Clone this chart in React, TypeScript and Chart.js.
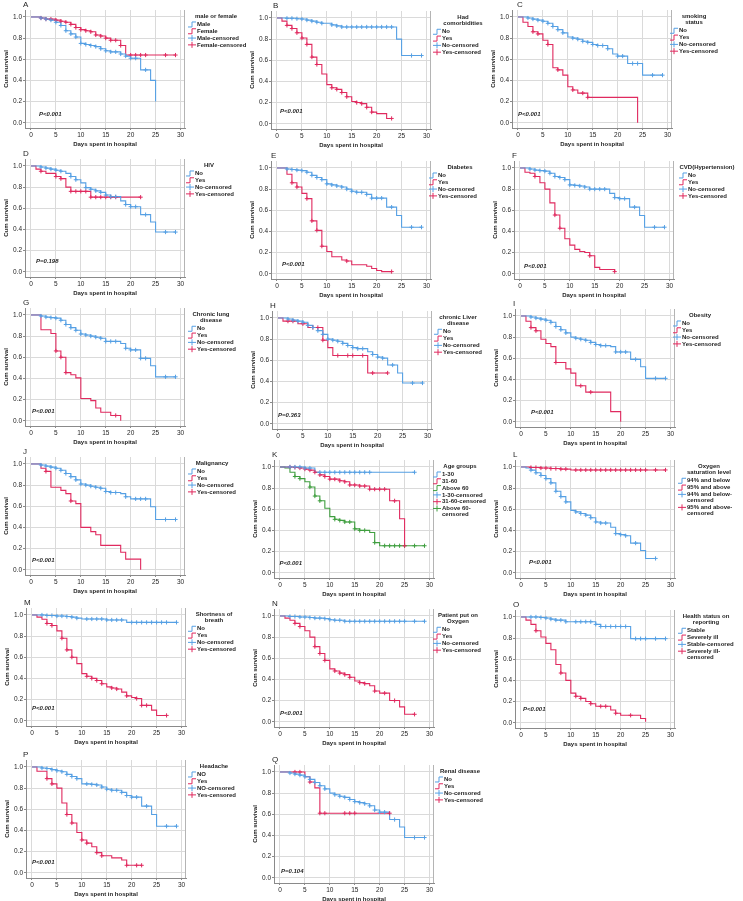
import React, { useEffect, useRef } from "react";
import { Chart, registerables } from "chart.js";
Chart.register(...registerables);

const FONT = '"Liberation Sans", Arial, sans-serif';
const BLUE = "#56a0e4";
const RED = "#e02a5f";
const GREEN = "#3f9e3f";
const TEXT = "#1e1e1e";

const X_TICKS = [0, 5, 10, 15, 20, 25, 30];
const X_TICK_LABELS = ["0", "5", "10", "15", "20", "25", "30"];
const Y_TICKS = [0, 0.2, 0.4, 0.6, 0.8, 1.0];
const Y_TICK_LABELS = ["0.0", "0.2", "0.4", "0.6", "0.8", "1.0"];
const X_TITLE = "Days spent in hospital";
const Y_TITLE = "Cum survival";

// ---- A: male or female
const A_MALE = [[0,1],[2,.99],[3,.98],[4,.97],[5,.95],[6,.92],[7,.87],[8,.84],[9,.81],[10,.75],[11,.74],[12,.73],[13,.72],[14,.70],[15,.68],[16,.67],[18,.65],[19,.63],[20,.61],[22,.50],[24,.40],[25,.20]];
const A_MALE_C = [2,3,4,5,6,7,8,9,10,11,12,13,14,15,16,17,18,19,20,21,23];
const A_FEMALE = [[0,1],[2,.99],[3,.98],[5,.97],[6,.96],[7,.95],[8,.93],[9,.90],[10,.88],[11,.87],[12,.86],[13,.83],[14,.82],[15,.80],[16,.78],[18,.73],[19,.64],[29,.64]];
const A_FEMALE_C = [2,3,4,5,6,7,8,9,10,11,12,13,14,15,16,17,18,20,21,22,23,27,29];
// ---- B: Had comorbidities
const B_NO = [[0,1],[2,.997],[4,.993],[5,.99],[6,.98],[7,.97],[8,.96],[9,.95],[11,.935],[12,.925],[13,.915],[24,.80],[25,.645],[29,.645]];
const B_NO_C = [2,3,4,5,6,7,8,9,11,12,13,14,15,16,17,18,19,20,21,22,23,27,29];
const B_YES = [[0,1],[1,.97],[2,.93],[3,.90],[4,.86],[5,.81],[6,.75],[7,.63],[8,.56],[9,.47],[10,.37],[11,.34],[12,.325],[13,.295],[14,.255],[15,.21],[16,.20],[17,.19],[18,.155],[19,.11],[20,.095],[22,.05],[23,.05]];
const B_YES_C = [2,3,4,5,6,7,8,11,12,13,14,16,17,18,19,23];
// ---- C: smoking status
const C_NO = [[0,1],[2,.99],[3,.98],[4,.97],[5,.96],[6,.94],[7,.91],[8,.88],[9,.85],[10,.81],[11,.80],[12,.79],[13,.77],[14,.76],[15,.74],[16,.73],[18,.70],[19,.65],[20,.63],[22,.56],[25,.45],[29,.45]];
const C_NO_C = [2,3,4,5,6,7,8,9,11,12,13,14,15,16,17,18,20,21,23,24,27,29];
const C_YES = [[0,1],[1,.95],[2,.91],[3,.86],[4,.84],[5,.78],[6,.74],[7,.52],[8,.50],[9,.45],[10,.34],[11,.31],[12,.28],[14,.24],[24,0]];
const C_YES_C = [3,4,6,8,11,13,14];
// ---- D: HIV
const D_NO = [[0,1],[2,.99],[3,.98],[4,.97],[5,.96],[6,.95],[7,.93],[8,.90],[9,.87],[10,.84],[11,.795],[12,.78],[13,.765],[14,.75],[15,.725],[16,.71],[18,.67],[19,.635],[20,.615],[22,.54],[24,.47],[25,.375],[29,.375]];
const D_NO_C = [2,3,4,5,6,8,9,11,12,13,14,15,16,17,19,20,21,23,27,29];
const D_YES = [[0,1],[1,.97],[2,.95],[3,.93],[5,.90],[6,.88],[7,.80],[8,.76],[12,.705],[22,.705]];
const D_YES_C = [2,5,6,8,9,10,11,12,13,14,15,16,17,22];
// ---- E: Diabetes
const E_NO = [[0,1],[2,.99],[3,.985],[4,.98],[5,.975],[6,.96],[7,.93],[8,.91],[9,.89],[10,.85],[11,.84],[12,.83],[13,.82],[14,.80],[15,.78],[16,.77],[18,.75],[19,.715],[22,.63],[24,.55],[25,.44],[29,.44]];
const E_NO_C = [2,3,4,5,6,7,8,9,10,11,12,13,14,15,16,17,18,19,20,21,23,27,29];
const E_YES = [[0,1],[2,.94],[3,.86],[4,.82],[5,.76],[6,.71],[7,.50],[8,.41],[9,.26],[10,.21],[11,.16],[13,.13],[14,.12],[15,.085],[18,.07],[19,.05],[20,.03],[21,.02],[23,.02]];
const E_YES_C = [3,4,6,7,8,9,14,23];
// ---- F: CVD(Hypertension)
const F_NO = [[0,1],[2,.99],[3,.98],[4,.975],[5,.97],[6,.95],[7,.92],[8,.91],[9,.89],[10,.84],[11,.835],[12,.83],[13,.82],[14,.80],[18,.76],[19,.72],[20,.71],[22,.63],[24,.55],[25,.44],[29,.44]];
const F_NO_C = [2,3,4,5,6,7,8,9,10,11,12,13,14,15,16,17,19,20,21,23,27,29];
const F_YES = [[0,1],[1,.96],[2,.95],[3,.92],[4,.86],[5,.80],[6,.67],[7,.555],[8,.43],[9,.33],[10,.27],[11,.23],[12,.21],[13,.20],[14,.17],[15,.06],[16,.04],[19,.02]];
const F_YES_C = [3,7,8,14,19];
// ---- G: Chronic lung disease
const G_NO = [[0,1],[2,.99],[3,.98],[4,.975],[5,.97],[6,.95],[7,.91],[8,.88],[9,.855],[10,.82],[11,.81],[12,.80],[13,.79],[14,.78],[15,.75],[18,.73],[19,.685],[20,.67],[22,.59],[24,.52],[25,.415],[29,.415]];
const G_NO_C = [2,3,4,5,6,7,8,9,10,11,12,13,14,15,16,17,19,20,21,22,23,27,29];
const G_YES = [[0,1],[2,.86],[4,.825],[5,.66],[6,.60],[7,.455],[8,.435],[9,.405],[10,.21],[12,.19],[13,.12],[14,.08],[16,.05],[18,0]];
const G_YES_C = [5,6,7,17];
// ---- H: chronic Liver disease
const H_NO = [[0,1],[2,.99],[3,.98],[4,.97],[5,.96],[6,.93],[7,.91],[8,.88],[9,.845],[10,.80],[11,.79],[12,.78],[13,.76],[14,.74],[15,.72],[16,.71],[18,.68],[19,.655],[20,.63],[21,.62],[22,.555],[24,.48],[25,.385],[29,.385]];
const H_NO_C = [2,3,4,5,6,7,8,9,10,11,12,13,14,15,16,17,19,20,21,23,27,29];
const H_YES = [[0,1],[1,.97],[4,.945],[6,.91],[9,.79],[10,.72],[11,.645],[18,.48],[22,.48]];
const H_YES_C = [2,3,5,7,8,9,12,14,15,17,19,22];
// ---- I: Obesity
const I_NO = [[0,1],[2,.99],[3,.98],[4,.97],[5,.96],[6,.94],[7,.90],[8,.87],[9,.84],[10,.80],[11,.79],[12,.78],[13,.77],[14,.75],[15,.73],[16,.72],[18,.71],[19,.66],[22,.59],[24,.52],[25,.41],[29,.41]];
const I_NO_C = [2,3,4,5,6,7,8,9,11,12,13,14,15,16,17,19,20,21,23,27,29];
const I_YES = [[0,1],[1,.95],[2,.89],[3,.86],[4,.78],[5,.74],[6,.71],[7,.56],[9,.50],[10,.46],[11,.34],[13,.28],[18,.095],[20,0]];
const I_YES_C = [2,3,7,12,14];
// ---- J: Malignancy
const J_NO = [[0,1],[2,.99],[3,.98],[4,.97],[5,.96],[6,.94],[7,.91],[8,.88],[9,.85],[10,.81],[11,.80],[12,.79],[13,.78],[14,.77],[15,.74],[16,.73],[18,.72],[19,.69],[20,.67],[24,.595],[25,.475],[29,.475]];
const J_NO_C = [2,3,4,5,6,7,8,9,10,11,12,13,14,15,16,17,19,21,22,23,27,29];
const J_YES = [[0,1],[2,.96],[3,.93],[4,.78],[6,.75],[7,.72],[8,.65],[9,.625],[10,.40],[12,.36],[13,.33],[14,.23],[18,.165],[19,.10],[22,0]];
const J_YES_C = [3,8];
// ---- K: Age groups
const K_1_30 = [[0,1],[5,.99],[7,.95],[27,.95]];
const K_1_30_C = [2,3,4,5,6,8,9,10,11,12,13,14,15,16,17,18,27];
const K_31_60 = [[0,1],[3,.995],[4,.99],[5,.98],[6,.97],[7,.95],[8,.925],[9,.91],[10,.885],[12,.87],[13,.86],[14,.83],[16,.82],[18,.79],[22,.68],[24,.51],[25,.255]];
const K_31_60_C = [2,3,4,5,6,7,8,9,10,11,12,13,14,15,16,17,18,19,20,21,23,25];
const K_60P = [[0,1],[1,.99],[2,.95],[3,.91],[4,.89],[5,.86],[6,.81],[7,.725],[8,.68],[9,.61],[10,.53],[11,.505],[12,.495],[13,.48],[15,.415],[16,.40],[18,.38],[19,.285],[20,.255],[29,.255]];
const K_60P_C = [3,4,6,7,8,11,12,13,14,15,16,17,19,21,22,23,24,25,27,29];
// ---- L: Oxygen saturation level
const L_LOW = [[0,1],[1,.99],[2,.97],[3,.945],[4,.92],[5,.89],[6,.85],[7,.77],[8,.72],[9,.67],[10,.59],[11,.575],[12,.56],[13,.545],[14,.52],[15,.48],[16,.47],[18,.43],[19,.37],[20,.36],[21,.35],[22,.28],[24,.21],[25,.135],[27,.135]];
const L_LOW_C = [2,3,4,5,6,7,8,9,11,12,13,14,15,16,17,19,20,21,23,27];
const L_HIGH = [[0,1],[2,.995],[4,.99],[6,.985],[8,.98],[10,.972],[29,.972]];
const L_HIGH_C = [2,3,4,5,6,7,8,9,11,12,13,14,15,16,17,18,19,20,21,22,23,24,25,27,29];
// ---- M: Shortness of breath
const M_NO = [[0,1],[3,.995],[5,.99],[7,.985],[8,.98],[9,.97],[10,.962],[15,.953],[19,.93],[29,.93]];
const M_NO_C = [2,3,4,5,6,7,8,9,11,12,13,14,15,16,17,18,20,21,22,23,24,25,26,27,29];
const M_YES = [[0,1],[1,.98],[2,.96],[3,.92],[4,.90],[5,.85],[6,.78],[7,.67],[8,.60],[9,.54],[10,.445],[11,.42],[12,.40],[13,.38],[14,.35],[15,.32],[16,.31],[17,.30],[18,.27],[19,.235],[20,.22],[21,.21],[22,.145],[24,.10],[25,.05],[27,.05]];
const M_YES_C = [3,4,6,7,8,11,12,13,14,16,17,19,21,22,23,27];
// ---- N: Patient put on Oxygen
const N_NO = [[0,1],[2,.995],[4,.99],[6,.985],[7,.98],[9,.975],[10,.965],[11,.96],[13,.95],[29,.95]];
const N_NO_C = [2,3,4,5,6,7,8,9,10,11,12,13,14,15,16,17,18,19,20,21,22,23,24,25,27,29];
const N_YES = [[0,1],[1,.98],[2,.96],[3,.93],[4,.90],[5,.86],[6,.80],[7,.71],[8,.645],[9,.58],[10,.50],[11,.48],[12,.46],[13,.445],[14,.42],[15,.385],[16,.37],[17,.36],[18,.34],[19,.29],[20,.27],[22,.20],[24,.14],[25,.07],[27,.07]];
const N_YES_C = [3,4,7,8,9,11,12,13,14,16,17,19,21,23,27];
// ---- O: Health status on reporting
const O_STABLE = [[0,1],[4,.995],[5,.99],[6,.98],[7,.97],[9,.955],[15,.93],[16,.91],[22,.795],[29,.795]];
const O_STABLE_C = [2,3,4,5,6,7,8,9,11,12,13,14,15,16,17,18,19,20,21,23,24,25,27,29];
const O_ILL = [[0,1],[1,.97],[2,.93],[3,.87],[4,.81],[5,.75],[6,.69],[7,.55],[8,.47],[9,.40],[10,.28],[11,.25],[12,.23],[13,.20],[14,.18],[15,.155],[18,.12],[19,.09],[20,.07],[24,.04],[25,.01]];
const O_ILL_C = [3,8,11,12,14,16,17,19,22];
// ---- P: Headache
const P_NO = [[0,1],[2,.99],[3,.985],[4,.975],[5,.965],[6,.955],[7,.93],[8,.91],[9,.89],[10,.84],[12,.835],[13,.83],[14,.81],[15,.79],[16,.78],[18,.76],[19,.73],[20,.715],[22,.63],[24,.55],[25,.44],[29,.44]];
const P_NO_C = [2,3,4,5,6,7,8,9,11,12,13,14,15,16,17,18,19,20,21,23,27,29];
const P_YES = [[0,1],[1,.96],[3,.89],[4,.84],[5,.80],[6,.66],[7,.55],[8,.47],[9,.38],[10,.31],[11,.28],[12,.245],[13,.19],[14,.16],[16,.14],[18,.12],[19,.07],[22,.07]];
const P_YES_C = [3,4,7,8,10,11,13,14,19,21,22];
// ---- Q: Renal disease
const Q_NO = [[0,1],[2,.99],[3,.98],[4,.97],[5,.955],[6,.93],[7,.90],[8,.87],[9,.84],[10,.80],[11,.785],[12,.77],[13,.76],[14,.74],[15,.72],[16,.71],[17,.70],[18,.68],[19,.64],[20,.62],[22,.55],[24,.48],[25,.38],[29,.38]];
const Q_NO_C = [2,3,4,5,6,7,8,9,11,12,13,14,15,16,17,18,19,20,21,23,27,29];
const Q_YES = [[0,1],[5,.955],[6,.905],[7,.85],[8,.61],[22,.61]];
const Q_YES_C = [3,4,6,8,9,13,14,15,22];

type Series = { name: string; curve: number[][]; cens: number[]; color: string };
type PanelCfg = { letter: string; title: string[]; p: string; series: Series[] };

const yn = (no: number[][], noC: number[], yes: number[][], yesC: number[], noName = "No"): Series[] => [
  { name: noName, curve: no, cens: noC, color: BLUE },
  { name: "Yes", curve: yes, cens: yesC, color: RED },
];

const PANELS: PanelCfg[] = [
  { letter: "A", title: ["male or female"], p: "P<0.001", series: [
    { name: "Male", curve: A_MALE, cens: A_MALE_C, color: BLUE },
    { name: "Female", curve: A_FEMALE, cens: A_FEMALE_C, color: RED }] },
  { letter: "B", title: ["Had", "comorbidities"], p: "P<0.001", series: yn(B_NO, B_NO_C, B_YES, B_YES_C) },
  { letter: "C", title: ["smoking", "status"], p: "P<0.001", series: yn(C_NO, C_NO_C, C_YES, C_YES_C) },
  { letter: "D", title: ["HIV"], p: "P=0.198", series: yn(D_NO, D_NO_C, D_YES, D_YES_C) },
  { letter: "E", title: ["Diabetes"], p: "P<0.001", series: yn(E_NO, E_NO_C, E_YES, E_YES_C) },
  { letter: "F", title: ["CVD(Hypertension)"], p: "P<0.001", series: yn(F_NO, F_NO_C, F_YES, F_YES_C) },
  { letter: "G", title: ["Chronic lung", "disease"], p: "P<0.001", series: yn(G_NO, G_NO_C, G_YES, G_YES_C) },
  { letter: "H", title: ["chronic Liver", "disease"], p: "P=0.363", series: yn(H_NO, H_NO_C, H_YES, H_YES_C) },
  { letter: "I", title: ["Obesity"], p: "P<0.001", series: yn(I_NO, I_NO_C, I_YES, I_YES_C) },
  { letter: "J", title: ["Malignancy"], p: "P<0.001", series: yn(J_NO, J_NO_C, J_YES, J_YES_C) },
  { letter: "K", title: ["Age groups"], p: "P<0.001", series: [
    { name: "1-30", curve: K_1_30, cens: K_1_30_C, color: BLUE },
    { name: "31-60", curve: K_31_60, cens: K_31_60_C, color: RED },
    { name: "Above 60", curve: K_60P, cens: K_60P_C, color: GREEN }] },
  { letter: "L", title: ["Oxygen", "saturation level"], p: "P<0.001", series: [
    { name: "94% and below", curve: L_LOW, cens: L_LOW_C, color: BLUE },
    { name: "95% and above", curve: L_HIGH, cens: L_HIGH_C, color: RED }] },
  { letter: "M", title: ["Shortness of", "breath"], p: "P<0.001", series: yn(M_NO, M_NO_C, M_YES, M_YES_C) },
  { letter: "N", title: ["Patient put on", "Oxygen"], p: "P<0.001", series: yn(N_NO, N_NO_C, N_YES, N_YES_C) },
  { letter: "O", title: ["Health status on", "reporting"], p: "P<0.001", series: [
    { name: "Stable", curve: O_STABLE, cens: O_STABLE_C, color: BLUE },
    { name: "Severely ill", curve: O_ILL, cens: O_ILL_C, color: RED }] },
  { letter: "P", title: ["Headache"], p: "P<0.001", series: yn(P_NO, P_NO_C, P_YES, P_YES_C, "NO") },
  { letter: "Q", title: ["Renal disease"], p: "P=0.104", series: yn(Q_NO, Q_NO_C, Q_YES, Q_YES_C) },
];

// layout (positions only)
const LAYOUT = [
  { left: 0, top: 0, lx: 197, tx: 216, letterX: 23, pX: 1.6, pY: 0.075 },
  { left: 246, top: 1, lx: 196, tx: 217, letterX: 27, pX: 0.6, pY: 0.12 },
  { left: 487, top: 0, lx: 192, tx: 207, letterX: 30, pX: 0, pY: 0.075 },
  { left: 0, top: 149, lx: 195, tx: 209, letterX: 23, pX: 1.0, pY: 0.095 },
  { left: 246, top: 151, lx: 192, tx: 214, letterX: 25, pX: 1.0, pY: 0.085 },
  { left: 489, top: 151, lx: 199, tx: 218, letterX: 23, pX: 0.8, pY: 0.065 },
  { left: 0, top: 298, lx: 197, tx: 211, letterX: 23, pX: 0.2, pY: 0.085 },
  { left: 247, top: 301, lx: 196, tx: 211, letterX: 23, pX: 0, pY: 0.075 },
  { left: 490, top: 299, lx: 192, tx: 210, letterX: 23, pX: 2.0, pY: 0.085 },
  { left: 0, top: 447, lx: 197, tx: 212, letterX: 23, pX: 0.2, pY: 0.085 },
  { left: 249, top: 450, lx: 193, tx: 211, letterX: 23, pX: -0.1, pY: 0.085 },
  { left: 490, top: 450, lx: 197, tx: 219, letterX: 23, pX: 1.6, pY: 0.095 },
  { left: 1, top: 598, lx: 196, tx: 213, letterX: 23, pX: 0, pY: 0.12 },
  { left: 249, top: 599, lx: 193, tx: 209, letterX: 23, pX: 0, pY: 0.075 },
  { left: 490, top: 600, lx: 197, tx: 216, letterX: 23, pX: 0.4, pY: 0.13 },
  { left: 1, top: 750, lx: 196, tx: 213, letterX: 22, pX: 0, pY: 0.095 },
  { left: 249, top: 755, lx: 195, tx: 211, letterX: 23, pX: 0.2, pY: 0.06 },
];

const CANVAS_H = 150;
const PLOT_RIGHT = 185;

function survAt(curve: number[][], t: number): number {
  let s = 1;
  for (const [d, v] of curve) if (d <= t) s = v;
  return s;
}

const decorPlugin = {
  id: "kmDecor",
  afterDraw(chart: any, _args: any, o: any) {
    const { ctx, chartArea: a, scales } = chart;
    const x = scales.x, y = scales.y;
    ctx.save();
    // right frame
    ctx.strokeStyle = "#b4b4b4";
    ctx.lineWidth = 1;
    ctx.beginPath();
    ctx.moveTo(a.right - 0.5, a.top);
    ctx.lineTo(a.right - 0.5, a.bottom);
    ctx.stroke();
    const y1 = y.getPixelForValue(1);
    // panel letter
    ctx.fillStyle = TEXT;
    ctx.textBaseline = "middle";
    ctx.textAlign = "left";
    ctx.font = `8px ${FONT}`;
    ctx.fillText(o.letter, o.letterX, y1 - 12);
    // p value
    ctx.font = `italic bold 6px ${FONT}`;
    ctx.fillText(o.p, x.getPixelForValue(o.pX), y.getPixelForValue(o.pY));
    // legend
    ctx.font = `bold 6px ${FONT}`;
    ctx.textAlign = "center";
    const ly = y1 - 1;
    o.title.forEach((line: string, i: number) => ctx.fillText(line, o.tx, ly + i * 6.3));
    let iy = ly + (o.title.length - 1) * 6.3 + 8.5;
    ctx.textAlign = "left";
    const items: { label: string; color: string; cens: boolean }[] = [];
    o.series.forEach((s: Series) => items.push({ label: s.name, color: s.color, cens: false }));
    o.series.forEach((s: Series) => items.push({ label: s.name + "-censored", color: s.color, cens: true }));
    const tx = o.lx;
    for (const it of items) {
      ctx.strokeStyle = it.color;
      ctx.lineWidth = 1;
      ctx.beginPath();
      if (it.cens) {
        ctx.moveTo(tx - 9, iy);
        ctx.lineTo(tx - 1, iy);
        ctx.moveTo(tx - 5, iy - 3);
        ctx.lineTo(tx - 5, iy + 3);
      } else {
        ctx.moveTo(tx - 9, iy + 2.5);
        ctx.lineTo(tx - 5, iy + 2.5);
        ctx.lineTo(tx - 5, iy - 2.5);
        ctx.lineTo(tx - 1, iy - 2.5);
      }
      ctx.stroke();
      let lines = [it.label];
      if (it.cens && ctx.measureText(it.label).width > 52) {
        lines = [it.label.slice(0, -8), "censored"];
      }
      ctx.fillStyle = TEXT;
      lines.forEach((l, j) => ctx.fillText(l, tx, iy + j * 6.2));
      iy += 6.8 + (lines.length - 1) * 6.2;
    }
    ctx.restore();
  },
};

function Panel({ cfg, lay }: { cfg: PanelCfg; lay: any }) {
  const ref = useRef<HTMLCanvasElement>(null);
  const W = Math.min(246, 743 - lay.left);
  useEffect(() => {
    const datasets: any[] = [];
    cfg.series.forEach((s) =>
      datasets.push({
        label: s.name,
        data: s.curve.map(([xv, yv]) => ({ x: xv, y: yv })),
        showLine: true,
        stepped: "before",
        borderColor: s.color,
        backgroundColor: s.color,
        borderWidth: 1.1,
        pointRadius: 0,
        pointHoverRadius: 0,
        fill: false,
        order: 2,
      })
    );
    cfg.series.forEach((s) =>
      datasets.push({
        label: s.name + "-censored",
        data: s.cens.map((t) => ({ x: t, y: survAt(s.curve, t) })),
        showLine: false,
        pointStyle: "cross",
        pointRadius: 2.1,
        pointHoverRadius: 2.1,
        borderColor: s.color,
        backgroundColor: s.color,
        borderWidth: 1,
        order: 1,
      })
    );
    const tickFont = { family: FONT, size: 6.5 };
    const titleFont = { family: FONT, size: 6, weight: "bold" as const };
    const chart = new Chart(ref.current as HTMLCanvasElement, {
      type: "scatter",
      data: { datasets },
      plugins: [decorPlugin],
      options: {
        animation: false,
        responsive: false,
        events: [],
        layout: { padding: { left: 0, top: 10, right: W - PLOT_RIGHT, bottom: 0 }, autoPadding: false },
        plugins: {
          legend: { display: false },
          tooltip: { enabled: false },
          kmDecor: { letter: cfg.letter, title: cfg.title, p: cfg.p, series: cfg.series, lx: lay.lx, tx: lay.tx, letterX: lay.letterX, pX: lay.pX, pY: lay.pY },
        } as any,
        scales: {
          x: {
            type: "linear",
            min: -1.2,
            max: 30.9,
            afterBuildTicks: (s: any) => { s.ticks = X_TICKS.map((v) => ({ value: v })); },
            afterFit: (s: any) => { s.height = 22; },
            ticks: { autoSkip: false, maxRotation: 0, padding: 1, color: TEXT, font: tickFont, callback: (_v: any, i: number) => X_TICK_LABELS[i] },
            grid: { color: "#dadada", lineWidth: 1, tickLength: 2, tickColor: "#8a8a8a" },
            border: { display: true, color: "#8a8a8a", width: 1 },
            title: { display: true, text: X_TITLE, color: TEXT, font: titleFont, padding: { top: 0, bottom: 2.4 } },
          },
          y: {
            type: "linear",
            min: -0.05,
            max: 1.066,
            afterBuildTicks: (s: any) => { s.ticks = Y_TICKS.map((v) => ({ value: v })); },
            afterFit: (s: any) => { s.width = 25; },
            ticks: { autoSkip: false, padding: 1, color: TEXT, font: tickFont, callback: (_v: any, i: number) => Y_TICK_LABELS[i] },
            grid: { color: "#dadada", lineWidth: 1, tickLength: 2, tickColor: "#8a8a8a" },
            border: { display: true, color: "#8a8a8a", width: 1 },
            title: { display: true, text: Y_TITLE, color: TEXT, font: titleFont, padding: { top: 2.4, bottom: 0 } },
          },
        },
      } as any,
    });
    return () => chart.destroy();
  }, []);
  return (
    <canvas
      ref={ref}
      width={W}
      height={CANVAS_H}
      style={{ position: "absolute", left: lay.left, top: lay.top, width: W, height: CANVAS_H }}
    />
  );
}

export default function App() {
  return (
    <div style={{ position: "absolute", left: 0, top: 0, width: 743, height: 901, background: "#fff", overflow: "hidden" }}>
      {PANELS.map((cfg, i) => (
        <Panel key={cfg.letter} cfg={cfg} lay={LAYOUT[i]} />
      ))}
    </div>
  );
}
